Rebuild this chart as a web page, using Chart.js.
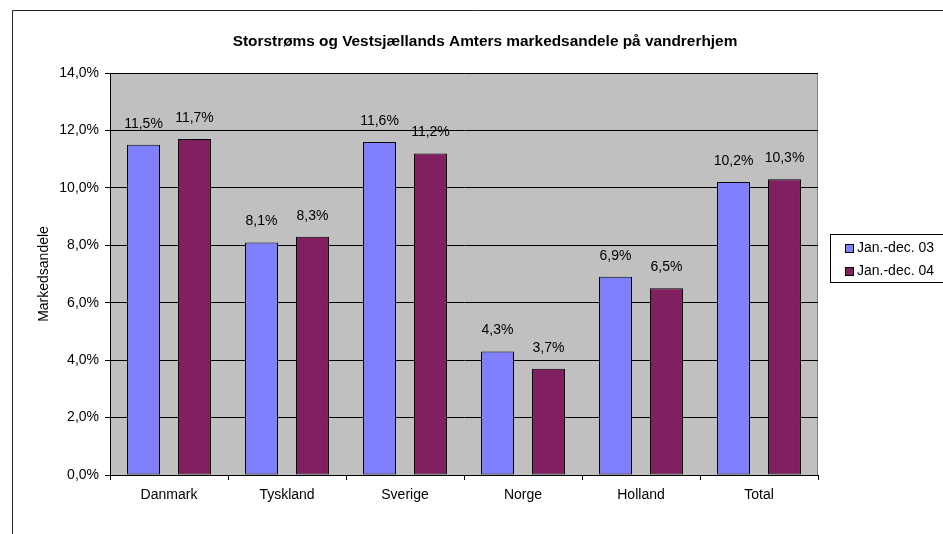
<!DOCTYPE html>
<html>
<head>
<meta charset="utf-8">
<script src="https://cdn.jsdelivr.net/npm/chart.js@4/dist/chart.umd.min.js"></script>
<style>
    body { margin: 0; background: #ffffff; }
    #chart_one { display: block; }
</style>
</head>
<body>
<canvas id="chart_one" width="943" height="534"></canvas>
<script>
// -----------------DATA-----------------
let categories = ["Danmark", "Tyskland", "Sverige", "Norge", "Holland", "Total"];
let seriesNames = ["Jan.-dec. 03", "Jan.-dec. 04"];
let values03 = [11.5, 8.1, 11.6, 4.3, 6.9, 10.2];
let values04 = [11.7, 8.3, 11.2, 3.7, 6.5, 10.3];
let yTicks = [0, 2, 4, 6, 8, 10, 12, 14];
let chartTitle = "Storstrøms og Vestsjællands Amters markedsandele på vandrerhjem";
let yTitle = "Markedsandele";

let colors = ["#8080ff", "#802060"];
const fontFam = "Arial, 'Liberation Sans', sans-serif";

function pct(v){
    return v.toFixed(1).replace(".", ",") + "%";
}

// -----------------PLUGIN: frame, plot background, labels, legend-----------------
let excelLook = {
    id: "excelLook",
    beforeDraw(chart){
        let ctx = chart.ctx;
        let a = chart.chartArea;
        ctx.save();
        ctx.fillStyle = "#ffffff";
        ctx.fillRect(0, 0, chart.width, chart.height);

        // outer frame (only top + left are visible)
        ctx.strokeStyle = "#222222";
        ctx.lineWidth = 1;
        ctx.beginPath();
        ctx.moveTo(12.5, chart.height);
        ctx.lineTo(12.5, 10.5);
        ctx.lineTo(chart.width, 10.5);
        ctx.stroke();

        // plot area
        ctx.fillStyle = "#c0c0c0";
        ctx.fillRect(a.left, a.top, a.right - a.left, a.bottom - a.top);
        ctx.strokeStyle = "#808080";
        ctx.beginPath();
        ctx.moveTo(a.left, a.top + 0.5);
        ctx.lineTo(a.right - 0.5, a.top + 0.5);
        ctx.lineTo(a.right - 0.5, a.bottom);
        ctx.stroke();

        // title
        ctx.fillStyle = "#000000";
        ctx.font = "bold 15.4px " + fontFam;
        ctx.textAlign = "center";
        ctx.textBaseline = "middle";
        ctx.fillText(chartTitle, 485, 42);
        ctx.restore();
    },
    afterDatasetsDraw(chart){
        let ctx = chart.ctx;
        ctx.save();
        ctx.fillStyle = "#000000";
        ctx.font = "14px " + fontFam;
        ctx.textAlign = "center";
        ctx.textBaseline = "middle";
        chart.data.datasets.forEach((ds, i) => {
            let meta = chart.getDatasetMeta(i);
            meta.data.forEach((bar, j) => {
                ctx.fillText(pct(ds.data[j]), bar.x, bar.y - 21);
            });
        });
        ctx.restore();
    },
    afterDraw(chart){
        let ctx = chart.ctx;
        ctx.save();
        ctx.strokeStyle = "#000000";
        ctx.lineWidth = 1;
        ctx.strokeRect(830.5, 234.5, 130, 48);
        ctx.font = "14px " + fontFam;
        ctx.textAlign = "left";
        ctx.textBaseline = "middle";
        chart.data.datasets.forEach((ds, i) => {
            let y = 248 + i * 23;
            ctx.fillStyle = ds.backgroundColor;
            ctx.fillRect(845, y - 4, 8, 8);
            ctx.strokeRect(845.5, y - 3.5, 8, 8);
            ctx.fillStyle = "#000000";
            ctx.fillText(ds.label, 857, y);
        });
        ctx.restore();
    }
};

// -----------------CHART-----------------
var ChartOne = new Chart("chart_one", {
    type: "bar",
    data: {
        labels: categories,
        datasets: [{
            label: seriesNames[0],
            data: values03,
            backgroundColor: colors[0],
            borderColor: "#000000",
            borderWidth: 1,
            borderSkipped: false
        }, {
            label: seriesNames[1],
            data: values04,
            backgroundColor: colors[1],
            borderColor: "#000000",
            borderWidth: 1,
            borderSkipped: false
        }]
    },
    options: {
        responsive: false,
        animation: false,
        devicePixelRatio: 1,
        categoryPercentage: 0.864,
        barPercentage: 0.647,
        layout: {
            padding: { left: 0, top: 73, right: 125, bottom: 0 }
        },
        plugins: {
            legend: { display: false },
            title: { display: false },
            tooltip: { enabled: false }
        },
        scales: {
            x: {
                afterFit(s){ s.height = 59; },
                grid: {
                    offset: true,
                    drawOnChartArea: false,
                    drawTicks: true,
                    tickLength: 5,
                    tickColor: "#000000"
                },
                border: { color: "#000000", width: 1 },
                ticks: {
                    color: "#000000",
                    padding: 7,
                    maxRotation: 0,
                    font: { family: fontFam, size: 14 }
                }
            },
            y: {
                min: 0,
                max: 14,
                afterFit(s){ s.width = 110; },
                afterBuildTicks(s){ s.ticks = yTicks.map(v => ({ value: v })); },
                grid: {
                    color: "#000000",
                    tickColor: "#000000",
                    tickLength: 5,
                    drawTicks: true
                },
                border: { color: "#000000", width: 1 },
                ticks: {
                    color: "#000000",
                    padding: 6,
                    font: { family: fontFam, size: 14 },
                    callback: v => pct(v)
                },
                title: {
                    display: true,
                    text: yTitle,
                    color: "#000000",
                    padding: { top: 36, bottom: 0 },
                    font: { family: fontFam, size: 14 }
                }
            }
        }
    },
    plugins: [excelLook]
});
</script>
</body>
</html>
